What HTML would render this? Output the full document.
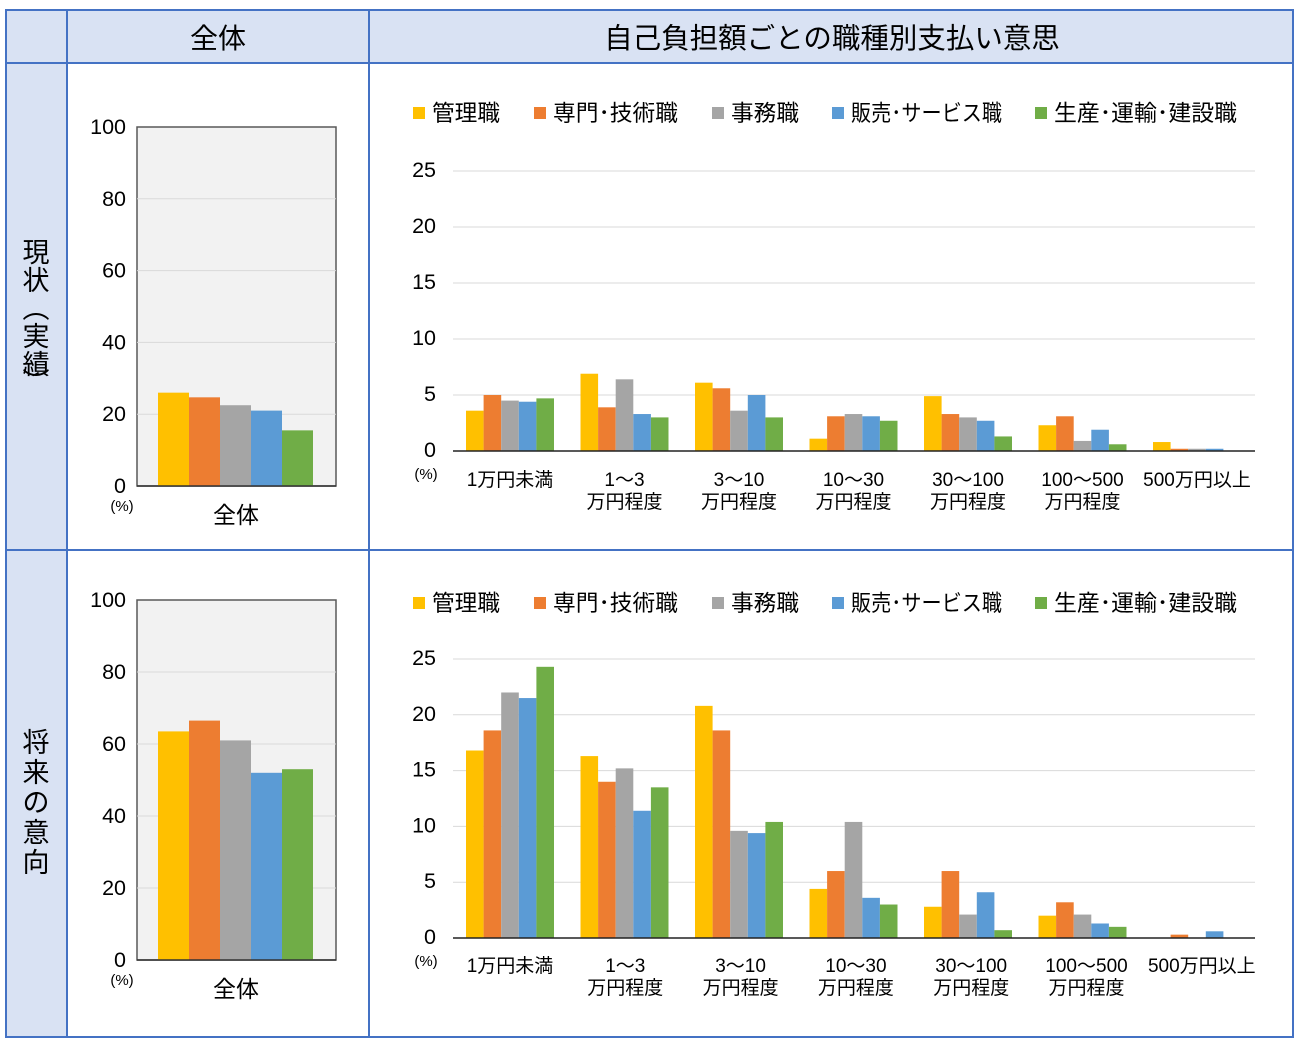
<!DOCTYPE html>
<html><head><meta charset="utf-8"><style>
body{margin:0;background:#fff;}
svg{display:block;font-family:"Liberation Sans","Noto Sans CJK JP",sans-serif;}
</style></head><body>
<svg id="s" width="1300" height="1060" xmlns="http://www.w3.org/2000/svg">
<rect x="6" y="10" width="1287" height="53" fill="#d9e2f3"/>
<rect x="6" y="63" width="61" height="974" fill="#d9e2f3"/>
<g stroke="#4472c4" stroke-width="2" fill="none">
<rect x="6" y="10" width="1287" height="1027"/>
<line x1="6" y1="63" x2="1293" y2="63"/><line x1="6" y1="550" x2="1293" y2="550"/>
<line x1="67" y1="10" x2="67" y2="1037"/><line x1="369" y1="10" x2="369" y2="1037"/>
</g>
<text x="218" y="48" font-size="28" text-anchor="middle">全体</text>
<text x="832" y="48" font-size="28.5" text-anchor="middle">自己負担額ごとの職種別支払い意思</text>
<g font-size="27" text-anchor="middle">
<text x="36" y="262">現</text><text x="36" y="290">状</text><text x="36" y="318">︵</text><text x="36" y="346">実</text><text x="36" y="374">績</text><text x="36" y="392">︶</text>
<text x="36" y="752">将</text><text x="36" y="782">来</text><text x="36" y="812">の</text><text x="36" y="842">意</text><text x="36" y="872">向</text>
</g>
<g id="g"></g>
</svg>
<script>
const C=["#ffc000","#ed7d31","#a5a5a5","#5b9bd5","#70ad47"];
const g=document.getElementById('g');let h='';
function left(top,zero,vals){
 const sc=(zero-top)/100;
 h+=`<rect x="137" y="${top}" width="199" height="${zero-top}" fill="#f2f2f2" stroke="#595959" stroke-width="1.5"/>`;
 for(let i=0;i<=5;i++){const y=zero-i*20*sc;
  if(i>0&&i<5)h+=`<line x1="137" x2="336" y1="${y}" y2="${y}" stroke="#d9d9d9"/>`;
  h+=`<text x="126" y="${y+7}" font-size="21.5" text-anchor="end">${i*20}</text>`;}
 vals.forEach((v,i)=>{h+=`<rect x="${158+i*31}" y="${zero-v*sc}" width="31" height="${v*sc}" fill="${C[i]}"/>`;});
 h+=`<line x1="137" x2="336" y1="${zero}" y2="${zero}" stroke="#333" stroke-width="1.5"/>`;
 h+=`<text x="122" y="${zero+25}" font-size="15" text-anchor="middle">(%)</text>`;
 h+=`<text x="236" y="${zero+37}" font-size="23" text-anchor="middle">全体</text>`;
}
left(127,486,[26,24.7,22.5,21,15.5]);
left(600,960,[63.5,66.5,61,52,53]);
const L=["管理職","専門･技術職","事務職","販売･サービス職","生産･運輸･建設職"];
const LX=[413,534,712,832,1035];
const LW=[68,125,68,151,183];
const cats=[["1万円未満"],["1～3","万円程度"],["3～10","万円程度"],["10～30","万円程度"],["30～100","万円程度"],["100～500","万円程度"],["500万円以上"]];
function right(ly,top,zero,data,lab){
 LX.forEach((x,i)=>{h+=`<rect x="${x}" y="${ly-6}" width="12" height="12" fill="${C[i]}"/><text x="${x+19}" y="${ly+8}" font-size="22.5" textLength="${LW[i]}" lengthAdjust="spacingAndGlyphs">${L[i]}</text>`;});
 const sc=(zero-top)/25;
 for(let i=0;i<=5;i++){const y=zero-i*5*sc;
  if(i>0)h+=`<line x1="453" x2="1255" y1="${y}" y2="${y}" stroke="#d9d9d9"/>`;
  h+=`<text x="436" y="${y+6}" font-size="21.5" text-anchor="end">${i*5}</text>`;}
 data.forEach((d,gi)=>d.forEach((v,i)=>{if(v>0)h+=`<rect x="${466+gi*114.5+i*17.6}" y="${zero-v*sc}" width="17.6" height="${v*sc}" fill="${C[i]}"/>`;}));
 h+=`<line x1="453" x2="1255" y1="${zero}" y2="${zero}" stroke="#222" stroke-width="1.5"/>`;
 h+=`<text x="426" y="${zero+28}" font-size="15" text-anchor="middle">(%)</text>`;
 cats.forEach((c,gi)=>{const cx=510+gi*114.5+(lab?gi*0.8:0);c.forEach((t,j)=>{h+=`<text x="${cx}" y="${zero+(lab?34:35)+j*22}" font-size="19" text-anchor="middle">${t}</text>`;});});
}
right(113,171,451,[[3.6,5,4.5,4.4,4.7],[6.9,3.9,6.4,3.3,3.0],[6.1,5.6,3.6,5.0,3.0],[1.1,3.1,3.3,3.1,2.7],[4.9,3.3,3.0,2.7,1.3],[2.3,3.1,0.9,1.9,0.6],[0.8,0.2,0.2,0.2,0]],false);
right(603,659,938,[[16.8,18.6,22,21.5,24.3],[16.3,14,15.2,11.4,13.5],[20.8,18.6,9.6,9.4,10.4],[4.4,6,10.4,3.6,3],[2.8,6,2.1,4.1,0.7],[2.0,3.2,2.1,1.3,1.0],[0,0.3,0,0.6,0]],true);
g.innerHTML=h;
</script>
</body></html>
